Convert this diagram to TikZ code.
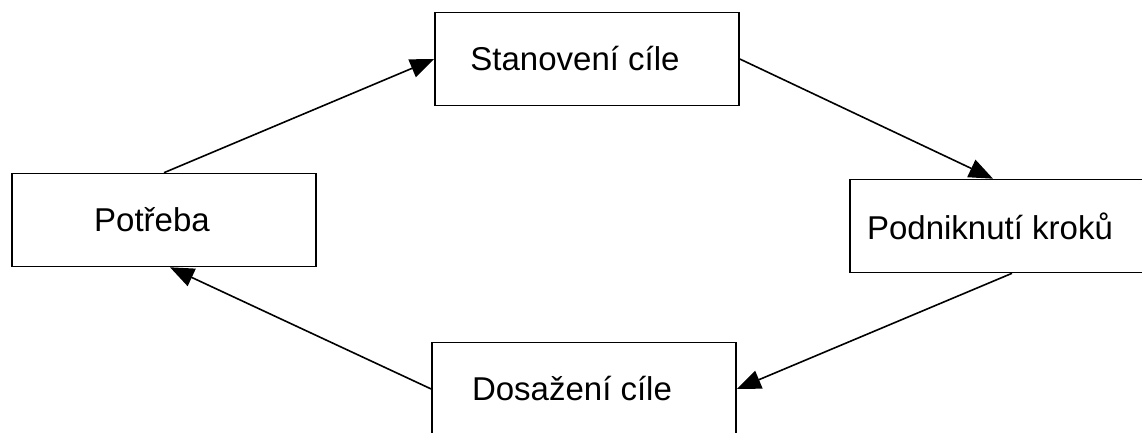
\documentclass[tikz,border=0pt]{standalone}
\usepackage{fontspec}
\setmainfont{Liberation Sans}
\usepackage{tikz}
\usetikzlibrary{arrows.meta}

\begin{document}
\begin{tikzpicture}[x=1pt, y=1pt,
    box/.style={draw, line width=1.6pt, minimum width=304pt, minimum height=93pt,
        font=\fontsize{33}{39}\selectfont, execute at end node={\hspace*{24pt}}},
    arr/.style={line width=1.6pt, -{Triangle[length=24pt, width=19pt]}}]
    \clip (0,0) rectangle (1142,432);

    % boxes
    \node[box] (stanoveni) at (587,373) {Stanovení cíle};
    \node[box] (potreba) at (164,212) {Potřeba};
    \node[box] (podniknuti) at (1002,206) {Podniknutí kroků};
    \node[box] (dosazeni) at (584,43) {Dosažení cíle};

    % cycle
    \draw[arr] (potreba.north) -- (stanoveni.west);
    \draw[arr] (stanoveni.east) -- ([xshift=-9pt]podniknuti.north);
    \draw[arr] ([xshift=10pt]podniknuti.south) -- (dosazeni.east);
    \draw[arr] (dosazeni.west) -- ([xshift=6pt]potreba.south);
\end{tikzpicture}
\end{document}
